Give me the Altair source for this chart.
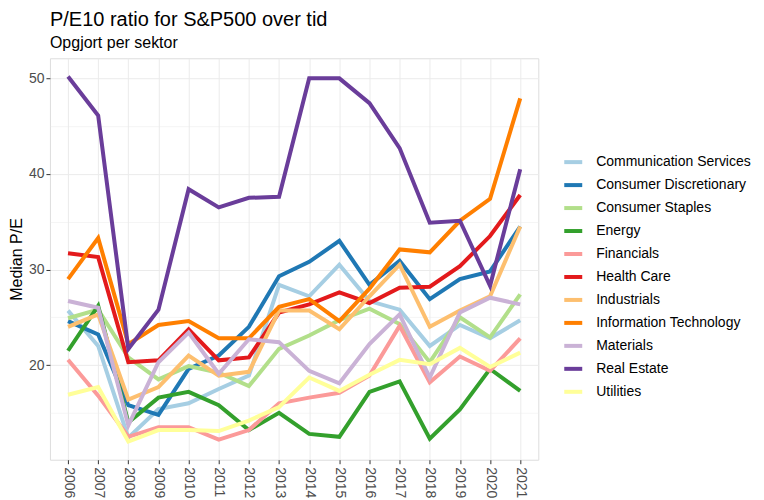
import altair as alt
import pandas as pd

years = list(range(2006, 2022))

sectors = [
    "Communication Services", "Consumer Discretionary", "Consumer Staples",
    "Energy", "Financials", "Health Care", "Industrials",
    "Information Technology", "Materials", "Real Estate", "Utilities",
]

comm_services = [25.7, 22.0, 12.4, 15.4, 16.0, 17.5, 18.9, 28.4, 27.2, 30.5, 26.7, 25.8, 22.0, 24.2, 22.8, 24.7]
cons_discr = [24.6, 23.2, 15.8, 14.8, 19.6, 21.0, 24.0, 29.3, 30.8, 33.0, 28.4, 30.9, 26.9, 29.0, 29.8, 34.5]
cons_staples = [24.9, 25.8, 20.8, 18.5, 19.9, 19.2, 17.8, 21.7, 23.1, 24.7, 25.9, 24.3, 20.3, 25.0, 22.9, 27.4]
energy = [21.5, 26.2, 14.0, 16.6, 17.2, 15.8, 13.2, 15.0, 12.8, 12.5, 17.2, 18.3, 12.3, 15.35, 19.6, 17.3]
financials = [20.55, 16.8, 12.5, 13.5, 13.5, 12.2, 13.2, 16.0, 16.6, 17.1, 18.9, 24.1, 18.2, 20.9, 19.4, 22.8]
health_care = [31.7, 31.3, 20.3, 20.5, 23.75, 20.5, 20.8, 25.5, 26.35, 27.6, 26.5, 28.1, 28.2, 30.35, 33.5, 37.8]
industrials = [24.0, 25.3, 16.4, 17.7, 21.0, 18.9, 19.3, 25.7, 25.7, 23.75, 27.2, 30.5, 24.0, 25.7, 27.2, 34.5]
info_tech = [29.0, 33.3, 22.2, 24.2, 24.6, 22.8, 22.8, 26.1, 26.9, 24.6, 28.0, 32.1, 31.8, 35.1, 37.4, 47.9]
materials = [26.7, 26.0, 13.7, 20.3, 23.4, 19.1, 22.7, 22.4, 19.4, 18.1, 22.2, 25.3, 18.7, 25.5, 27.05, 26.35]
real_estate = [50.2, 46.1, 21.7, 25.8, 38.4, 36.5, 37.5, 37.6, 50.0, 50.0, 47.4, 42.7, 34.9, 35.1, 28.3, 40.5]
utilities = [16.9, 17.7, 12.0, 13.2, 13.2, 13.1, 14.2, 15.6, 18.7, 17.3, 19.0, 20.55, 20.1, 21.8, 19.8, 21.3]

series = [comm_services, cons_discr, cons_staples, energy, financials, health_care,
          industrials, info_tech, materials, real_estate, utilities]

colors = ["#A6CEE3", "#1F78B4", "#B2DF8A", "#33A02C", "#FB9A99", "#E31A1C",
          "#FDBF6F", "#FF7F00", "#CAB2D6", "#6A3D9A", "#FFFF99"]

rows = []
for s, vals in zip(sectors, series):
    for y, v in zip(years, vals):
        rows.append({"year": str(y), "sector": s, "pe": v})
df = pd.DataFrame(rows)

font = "Liberation Sans"

chart = alt.Chart(df).mark_line(strokeWidth=4).encode(
    x=alt.X("year:O", title=None,
            scale=alt.Scale(type="point", padding=0.6),
            axis=alt.Axis(labelAngle=90, labelAlign="left", labelBaseline="middle",
                          labelFontSize=14, labelColor="#4D4D4D", labelFont=font,
                          tickColor="#333333", tickSize=4, labelPadding=3,
                          domain=False, grid=True, gridColor="#EBEBEB", gridWidth=1)),
    y=alt.Y("pe:Q", title="Median P/E",
            scale=alt.Scale(domain=[10.1, 52.1], nice=False, zero=False),
            axis=alt.Axis(values=[15, 20, 25, 30, 35, 40, 45, 50],
                          labelExpr="datum.value % 10 == 0 ? datum.label : ''",
                          labelFontSize=14, labelColor="#4D4D4D", labelFont=font,
                          tickColor={"condition": {"test": "datum.value % 10 != 0", "value": "transparent"}, "value": "#333333"},
                          gridWidth={"condition": {"test": "datum.value % 10 != 0", "value": 0.5}, "value": 1},
                          tickSize=4, labelPadding=2, domain=False,
                          gridColor="#EBEBEB",
                          titleFontSize=16, titleFont=font, titleFontWeight="normal",
                          titleColor="#000000", titlePadding=4)),
    color=alt.Color("sector:N", title=None,
                    scale=alt.Scale(domain=sectors, range=colors),
                    legend=alt.Legend(orient="none", legendX=513, legendY=93,
                                      symbolType="stroke", symbolStrokeWidth=4,
                                      symbolSize=324, labelFontSize=14, labelFont=font,
                                      labelColor="#000000", rowPadding=4,
                                      labelOffset=12, padding=0)),
).properties(
    width=489,
    height=402,
    title=alt.TitleParams(
        text="P/E10 ratio for S&P500 over tid",
        subtitle="Opgjort per sektor",
        anchor="start", frame="group",
        fontSize=20, font=font, fontWeight="normal", color="#000000",
        subtitleFontSize=16, subtitleFont=font, subtitleColor="#000000",
        subtitlePadding=5, offset=7,
    ),
    padding={"left": 0, "top": 2, "right": 5, "bottom": 0},
).configure_view(
    stroke="#333333", strokeWidth=1
).configure(background="white")

chart.save("out.html", embed_options={"renderer": "svg", "actions": False})
